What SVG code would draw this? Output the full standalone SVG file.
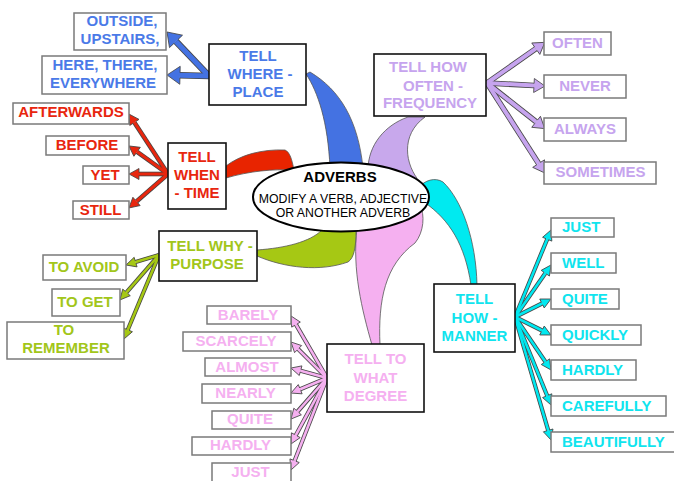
<svg xmlns="http://www.w3.org/2000/svg" width="674" height="481" viewBox="0 0 674 481">
<style>
text{font-family:"Liberation Sans",Arial,sans-serif;font-weight:bold;font-size:15px;text-anchor:middle}
.node{fill:#fff;stroke:#111;stroke-width:1.6}
.leaf{fill:#fff;stroke:#7a7a7a;stroke-width:1.5}
.wedge{stroke:#555;stroke-width:0.8}
.under{stroke:#444;fill:none}
.b{fill:#4a7ae8}.r{fill:#e8260e}.l{fill:#c6a4ee}.g{fill:#a2c61a}.p{fill:#f5b0f0}.c{fill:#10e4ee}
.sb{stroke:#4472e2}.sr{stroke:#e8260e}.sl{stroke:#c6a4ee}.sg{stroke:#a6c814}.sp{stroke:#f5b0f0}.sc{stroke:#00e8f0}
.st{text-anchor:start}
</style>
<defs>
<marker id="mb" markerUnits="userSpaceOnUse" markerWidth="30" markerHeight="30" refX="0" refY="0" orient="auto" style="overflow:visible"><path d="M0,-2.5 L0,-9 L13,0 L0,9 L0,2.5" fill="#4472e2" stroke="#444" stroke-width="0.8"/></marker>
<marker id="mr" markerUnits="userSpaceOnUse" markerWidth="30" markerHeight="30" refX="0" refY="0" orient="auto" style="overflow:visible"><path d="M0,-1.5 L0,-5.5 L10,0 L0,5.5 L0,1.5" fill="#e8260e" stroke="#444" stroke-width="0.8"/></marker>
<marker id="ml" markerUnits="userSpaceOnUse" markerWidth="30" markerHeight="30" refX="0" refY="0" orient="auto" style="overflow:visible"><path d="M0,-2 L0,-7 L11,0 L0,7 L0,2" fill="#c6a4ee" stroke="#444" stroke-width="0.8"/></marker>
<marker id="mg" markerUnits="userSpaceOnUse" markerWidth="30" markerHeight="30" refX="0" refY="0" orient="auto" style="overflow:visible"><path d="M0,-1.3 L0,-5 L10,0 L0,5 L0,1.3" fill="#a6c814" stroke="#444" stroke-width="0.8"/></marker>
<marker id="mp" markerUnits="userSpaceOnUse" markerWidth="30" markerHeight="30" refX="0" refY="0" orient="auto" style="overflow:visible"><path d="M0,-1.3 L0,-5 L10,0 L0,5 L0,1.3" fill="#f5b0f0" stroke="#444" stroke-width="0.8"/></marker>
<marker id="mc" markerUnits="userSpaceOnUse" markerWidth="30" markerHeight="30" refX="0" refY="0" orient="auto" style="overflow:visible"><path d="M0,-1.3 L0,-5 L10,0 L0,5 L0,1.3" fill="#00e8f0" stroke="#444" stroke-width="0.8"/></marker>
</defs>

<g id="connectors">
  <!-- curved wedges from center -->
  <path class="wedge" fill="#4472e2" d="M306,74 C 318,92 328,122 330,168 L 363,168 C 358,120 340,90 310,72 Z"/>
  <path class="wedge" fill="#e82400" d="M226,166 C 240,155 262,149 285,150 C 290,152 292,160 294,170 C 272,169 250,171 226,178 Z"/>
  <path class="wedge" fill="#c8a8ec" d="M408,117 C 385,125 368,145 368,170 L 420,182 C 405,165 400,135 425,117 Z"/>
  <path class="wedge" fill="#00eaf0" d="M418,188 C 425,180 435,177 443,182 C 462,200 476,240 477,285 L 471,285 C 465,245 450,220 424,202 Z"/>
  <path class="wedge" fill="#f5b0f0" d="M357,228 C 352,270 362,310 372,345 L 380,345 C 378,300 385,265 415,243 C 424,232 425,215 420,205 Z"/>
  <path class="wedge" fill="#a6c814" d="M257,250 C 285,248 310,242 322,230 L 356,230 C 356,248 354,258 348,262 C 320,272 285,268 257,256 Z"/>

  <!-- blue arrows -->
  <g class="under" stroke-width="6.6">
    <path d="M209,76 L176,41.4"/><path d="M209,76 L180,75.3"/>
  </g>
  <g class="sb" stroke-width="5" fill="none" marker-end="url(#mb)">
    <path d="M209,76 L176,41.4"/><path d="M209,76 L180,75.3"/>
  </g>
  <!-- red arrows -->
  <g class="under" stroke-width="4.6">
    <path d="M168,174 L134.4,122.4"/><path d="M168,174 L137.1,151.8"/><path d="M168,174 L139,174"/><path d="M168,174 L136.5,201.4"/>
  </g>
  <g class="sr" stroke-width="3" fill="none" marker-end="url(#mr)">
    <path d="M168,174 L134.4,122.4"/><path d="M168,174 L137.1,151.8"/><path d="M168,174 L139,174"/><path d="M168,174 L136.5,201.4"/>
  </g>
  <!-- lavender arrows -->
  <g class="under" stroke-width="5.6">
    <path d="M487,83 L535.8,48.7"/><path d="M487,83 L534,85.5"/><path d="M487,83 L536.1,121.8"/><path d="M487,83 L538.6,163.6"/>
  </g>
  <g class="sl" stroke-width="4" fill="none" marker-end="url(#ml)">
    <path d="M487,83 L535.8,48.7"/><path d="M487,83 L534,85.5"/><path d="M487,83 L536.1,121.8"/><path d="M487,83 L538.6,163.6"/>
  </g>
  <!-- green arrows -->
  <g class="under" stroke-width="4.2">
    <path d="M159,255 L135.6,262.1"/><path d="M159,255 L126.5,292.4"/><path d="M159,255 L127.8,329.8"/>
  </g>
  <g class="sg" stroke-width="2.6" fill="none" marker-end="url(#mg)">
    <path d="M159,255 L135.6,262.1"/><path d="M159,255 L126.5,292.4"/><path d="M159,255 L127.8,329.8"/>
  </g>
  <!-- pink arrows -->
  <g class="under" stroke-width="4.2">
    <path d="M327,378 L296,324.6"/><path d="M327,378 L298.1,349.1"/><path d="M327,378 L300.6,370.7"/><path d="M327,378 L300.2,389.2"/><path d="M327,378 L297.6,411.5"/><path d="M327,378 L295.8,435.2"/><path d="M327,378 L294.6,460.7"/>
  </g>
  <g class="sp" stroke-width="2.6" fill="none" marker-end="url(#mp)">
    <path d="M327,378 L296,324.6"/><path d="M327,378 L298.1,349.1"/><path d="M327,378 L300.6,370.7"/><path d="M327,378 L300.2,389.2"/><path d="M327,378 L297.6,411.5"/><path d="M327,378 L295.8,435.2"/><path d="M327,378 L294.6,460.7"/>
  </g>
  <!-- cyan arrows -->
  <g class="under" stroke-width="4.2">
    <path d="M515,317 L547.2,239.2"/><path d="M515,317 L545.3,273.2"/><path d="M515,317 L542,303.5"/><path d="M515,317 L542,330.5"/><path d="M515,317 L545.4,361.7"/><path d="M515,317 L547.2,395.7"/><path d="M515,317 L548.2,430.4"/>
  </g>
  <g class="sc" stroke-width="2.6" fill="none" marker-end="url(#mc)">
    <path d="M515,317 L547.2,239.2"/><path d="M515,317 L545.3,273.2"/><path d="M515,317 L542,303.5"/><path d="M515,317 L542,330.5"/><path d="M515,317 L545.4,361.7"/><path d="M515,317 L547.2,395.7"/><path d="M515,317 L548.2,430.4"/>
  </g>
</g>

<g id="center">
  <ellipse cx="341" cy="197" rx="88" ry="34.5" fill="#fff" stroke="#000" stroke-width="2"/>
  <text x="340" y="182" fill="#000">ADVERBS</text>
  <text x="343" y="203" fill="#000" style="font-weight:normal;font-size:12.3px">MODIFY A VERB, ADJECTIVE</text>
  <text x="343" y="217" fill="#000" style="font-weight:normal;font-size:12.3px">OR ANOTHER ADVERB</text>
</g>

<!-- WHERE / PLACE -->
<g id="where">
  <rect class="node" x="209" y="44" width="97" height="61"/>
  <text class="b" x="258" y="61">TELL</text>
  <text class="b" x="260" y="79">WHERE -</text>
  <text class="b" x="258" y="97">PLACE</text>
</g>
<g id="outside">
  <rect class="leaf" x="74" y="13" width="92" height="37"/>
  <text class="b" x="122" y="26">OUTSIDE,</text>
  <text class="b" x="120" y="44">UPSTAIRS,</text>
</g>
<g id="here">
  <rect class="leaf" x="42" y="56" width="125" height="38"/>
  <text class="b" x="105" y="70">HERE, THERE,</text>
  <text class="b" x="103" y="88">EVERYWHERE</text>
</g>

<!-- WHEN / TIME -->
<g id="when">
  <rect class="node" x="168" y="143" width="58" height="66"/>
  <text class="r" x="197" y="162">TELL</text>
  <text class="r" x="197" y="180">WHEN</text>
  <text class="r" x="197" y="198">- TIME</text>
</g>
<g id="afterwards"><rect class="leaf" x="13" y="103" width="116" height="21"/><text class="r" x="71" y="117">AFTERWARDS</text></g>
<g id="before"><rect class="leaf" x="46" y="136" width="83" height="19"/><text class="r" x="87" y="149.5">BEFORE</text></g>
<g id="yet"><rect class="leaf" x="83" y="166" width="46" height="18"/><text class="r" x="105" y="179.5">YET</text></g>
<g id="still"><rect class="leaf" x="73" y="201" width="56" height="18"/><text class="r" x="100.5" y="214.5">STILL</text></g>

<!-- FREQUENCY -->
<g id="often-node">
  <rect class="node" x="374" y="54" width="112" height="62"/>
  <text class="l" x="428" y="72">TELL HOW</text>
  <text class="l" x="433" y="91">OFTEN -</text>
  <text class="l" x="430" y="108">FREQUENCY</text>
</g>
<g id="often"><rect class="leaf" x="544" y="32" width="67" height="23"/><text class="l" x="577.5" y="48">OFTEN</text></g>
<g id="never"><rect class="leaf" x="544" y="75" width="82" height="23"/><text class="l" x="585" y="91">NEVER</text></g>
<g id="always"><rect class="leaf" x="544" y="118" width="82" height="23"/><text class="l" x="585" y="134">ALWAYS</text></g>
<g id="sometimes"><rect class="leaf" x="544" y="162" width="112" height="22"/><text class="l" x="600.5" y="177">SOMETIMES</text></g>

<!-- WHY / PURPOSE -->
<g id="why">
  <rect class="node" x="159" y="231" width="98" height="50"/>
  <text class="g" x="210" y="251">TELL WHY -</text>
  <text class="g" x="207" y="269">PURPOSE</text>
</g>
<g id="toavoid"><rect class="leaf" x="43" y="255" width="83" height="25"/><text class="g" x="84" y="272">TO AVOID</text></g>
<g id="toget"><rect class="leaf" x="52" y="289" width="68" height="27"/><text class="g" x="85" y="307">TO GET</text></g>
<g id="toremember">
  <rect class="leaf" x="7" y="322" width="117" height="37"/>
  <text class="g" x="64" y="335">TO</text>
  <text class="g" x="66" y="353">REMEMBER</text>
</g>

<!-- DEGREE -->
<g id="degree">
  <rect class="node" x="327" y="344" width="97" height="68"/>
  <text class="p" x="375.5" y="364">TELL TO</text>
  <text class="p" x="375.5" y="383">WHAT</text>
  <text class="p" x="375.5" y="401">DEGREE</text>
</g>
<g id="barely"><rect class="leaf" x="207" y="306" width="84" height="18"/><text class="p" x="248" y="320">BARELY</text></g>
<g id="scarcely"><rect class="leaf" x="183" y="332" width="108" height="19"/><text class="p" x="236" y="346">SCARCELY</text></g>
<g id="almost"><rect class="leaf" x="205" y="358" width="86" height="18"/><text class="p" x="247" y="372">ALMOST</text></g>
<g id="nearly"><rect class="leaf" x="202" y="384" width="89" height="19"/><text class="p" x="245.5" y="398">NEARLY</text></g>
<g id="quite-d"><rect class="leaf" x="212" y="411" width="79" height="18"/><text class="p" x="250" y="424">QUITE</text></g>
<g id="hardly-d"><rect class="leaf" x="192" y="437" width="99" height="18"/><text class="p" x="240.5" y="450">HARDLY</text></g>
<g id="just-d"><rect class="leaf" x="212" y="463" width="79" height="22"/><text class="p" x="250.5" y="477">JUST</text></g>

<!-- MANNER -->
<g id="manner">
  <rect class="node" x="434" y="284" width="81" height="68"/>
  <text class="c" x="474.5" y="304">TELL</text>
  <text class="c" x="474.5" y="323">HOW -</text>
  <text class="c" x="474.5" y="341">MANNER</text>
</g>
<g id="just-m"><rect class="leaf" x="551" y="218" width="63" height="19"/><text class="c st" x="562" y="232">JUST</text></g>
<g id="well"><rect class="leaf" x="551" y="253" width="65" height="20"/><text class="c st" x="562" y="268">WELL</text></g>
<g id="quite-m"><rect class="leaf" x="551" y="289" width="68" height="20"/><text class="c st" x="562" y="304">QUITE</text></g>
<g id="quickly"><rect class="leaf" x="551" y="325" width="90" height="20"/><text class="c st" x="562" y="339.5">QUICKLY</text></g>
<g id="hardly-m"><rect class="leaf" x="551" y="360" width="85" height="20"/><text class="c st" x="562" y="375">HARDLY</text></g>
<g id="carefully"><rect class="leaf" x="551" y="396" width="115" height="20"/><text class="c st" x="562" y="411">CAREFULLY</text></g>
<g id="beautifully"><rect class="leaf" x="551" y="432" width="126" height="20"/><text class="c st" x="562" y="447">BEAUTIFULLY</text></g>
</svg>
